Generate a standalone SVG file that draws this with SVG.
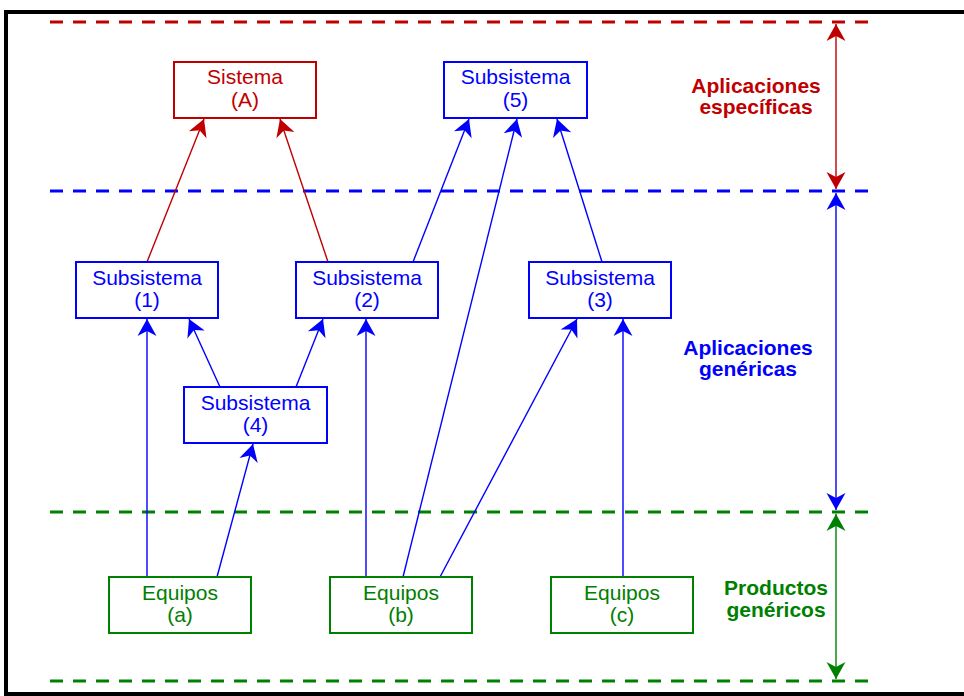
<svg xmlns="http://www.w3.org/2000/svg" width="964" height="696" viewBox="0 0 964 696">
<style>
.box{fill:#fff;stroke-width:2}
.r{stroke:#C00000}
.b{stroke:#0000FF}
.g{stroke:#008000}
.tr{fill:#C00000}
.tb{fill:#0000FF}
.tg{fill:#008000}
text{font-family:"Liberation Sans",Arial,sans-serif;font-size:21px;text-anchor:middle}
.lbl{font-weight:bold}
.dash{stroke-width:3;stroke-dasharray:13 10;fill:none}
.con line{stroke-width:1.4;fill:none}
</style>
<defs>
<marker id="ar" markerUnits="userSpaceOnUse" markerWidth="20" markerHeight="20" viewBox="-18 -10 20 20" refX="0" refY="0" orient="auto-start-reverse"><path d="M0,0 L-17,-9.5 L-12,0 L-17,9.5 Z" fill="#C00000"/></marker>
<marker id="ab" markerUnits="userSpaceOnUse" markerWidth="20" markerHeight="20" viewBox="-18 -10 20 20" refX="0" refY="0" orient="auto-start-reverse"><path d="M0,0 L-17,-9.5 L-12,0 L-17,9.5 Z" fill="#0000FF"/></marker>
<marker id="ag" markerUnits="userSpaceOnUse" markerWidth="20" markerHeight="20" viewBox="-18 -10 20 20" refX="0" refY="0" orient="auto-start-reverse"><path d="M0,0 L-17,-9.5 L-12,0 L-17,9.5 Z" fill="#008000"/></marker>
</defs>
<rect x="0" y="0" width="964" height="696" fill="#fff"/>
<rect x="6" y="12" width="1000" height="682" fill="none" stroke="#000" stroke-width="4"/>
<g id="levels">
<line class="dash r" x1="50" y1="22" x2="873" y2="22"/>
<line class="dash b" x1="50" y1="191" x2="873" y2="191"/>
<line class="dash g" x1="50" y1="512" x2="873" y2="512"/>
<line class="dash g" x1="50" y1="681" x2="873" y2="681"/>
</g>
<g id="connectors" class="con">
<line class="r" x1="147" y1="262" x2="204" y2="119" marker-end="url(#ar)"/>
<line class="r" x1="328" y1="262" x2="280" y2="119" marker-end="url(#ar)"/>
<line class="b" x1="413" y1="262" x2="469" y2="119" marker-end="url(#ab)"/>
<line class="b" x1="403" y1="577" x2="517" y2="119" marker-end="url(#ab)"/>
<line class="b" x1="602" y1="262" x2="557" y2="119" marker-end="url(#ab)"/>
<line class="b" x1="147" y1="577" x2="147" y2="319" marker-end="url(#ab)"/>
<line class="b" x1="220" y1="387" x2="189" y2="319" marker-end="url(#ab)"/>
<line class="b" x1="296" y1="387" x2="323" y2="319" marker-end="url(#ab)"/>
<line class="b" x1="217" y1="577" x2="253" y2="444" marker-end="url(#ab)"/>
<line class="b" x1="366" y1="577" x2="366" y2="319" marker-end="url(#ab)"/>
<line class="b" x1="440" y1="577" x2="577" y2="319" marker-end="url(#ab)"/>
<line class="b" x1="623" y1="577" x2="623" y2="319" marker-end="url(#ab)"/>
<line class="r" x1="836" y1="24" x2="836" y2="189" marker-start="url(#ar)" marker-end="url(#ar)"/>
<line class="b" x1="836" y1="193" x2="836" y2="510" marker-start="url(#ab)" marker-end="url(#ab)"/>
<line class="g" x1="836" y1="514" x2="836" y2="679" marker-start="url(#ag)" marker-end="url(#ag)"/>
</g>
<g id="nodeA"><rect class="box r" x="174" y="62" width="142" height="56"/><text class="tr" x="245" y="84">Sistema</text><text class="tr" x="245" y="107">(A)</text></g>
<g id="node5"><rect class="box b" x="444" y="62" width="143" height="56"/><text class="tb" x="515.5" y="84">Subsistema</text><text class="tb" x="515.5" y="107">(5)</text></g>
<g id="node1"><rect class="box b" x="76" y="262" width="142" height="56"/><text class="tb" x="147" y="284.5">Subsistema</text><text class="tb" x="147" y="307">(1)</text></g>
<g id="node2"><rect class="box b" x="296" y="262" width="142" height="56"/><text class="tb" x="367" y="284.5">Subsistema</text><text class="tb" x="367" y="307">(2)</text></g>
<g id="node3"><rect class="box b" x="529" y="262" width="142" height="56"/><text class="tb" x="600" y="284.5">Subsistema</text><text class="tb" x="600" y="307">(3)</text></g>
<g id="node4"><rect class="box b" x="184" y="387" width="143" height="56"/><text class="tb" x="255.5" y="409.5">Subsistema</text><text class="tb" x="255.5" y="432">(4)</text></g>
<g id="nodeEa"><rect class="box g" x="109" y="577" width="142" height="56"/><text class="tg" x="180" y="599.5">Equipos</text><text class="tg" x="180" y="622">(a)</text></g>
<g id="nodeEb"><rect class="box g" x="330" y="577" width="142" height="56"/><text class="tg" x="401" y="599.5">Equipos</text><text class="tg" x="401" y="622">(b)</text></g>
<g id="nodeEc"><rect class="box g" x="551" y="577" width="142" height="56"/><text class="tg" x="622" y="599.5">Equipos</text><text class="tg" x="622" y="622">(c)</text></g>
<g id="labelEsp"><text class="lbl tr" x="756" y="93">Aplicaciones</text><text class="lbl tr" x="756" y="114">específicas</text></g>
<g id="labelGen"><text class="lbl tb" x="748" y="355">Aplicaciones</text><text class="lbl tb" x="748" y="376">genéricas</text></g>
<g id="labelProd"><text class="lbl tg" x="776" y="595">Productos</text><text class="lbl tg" x="776" y="617">genéricos</text></g>
</svg>
